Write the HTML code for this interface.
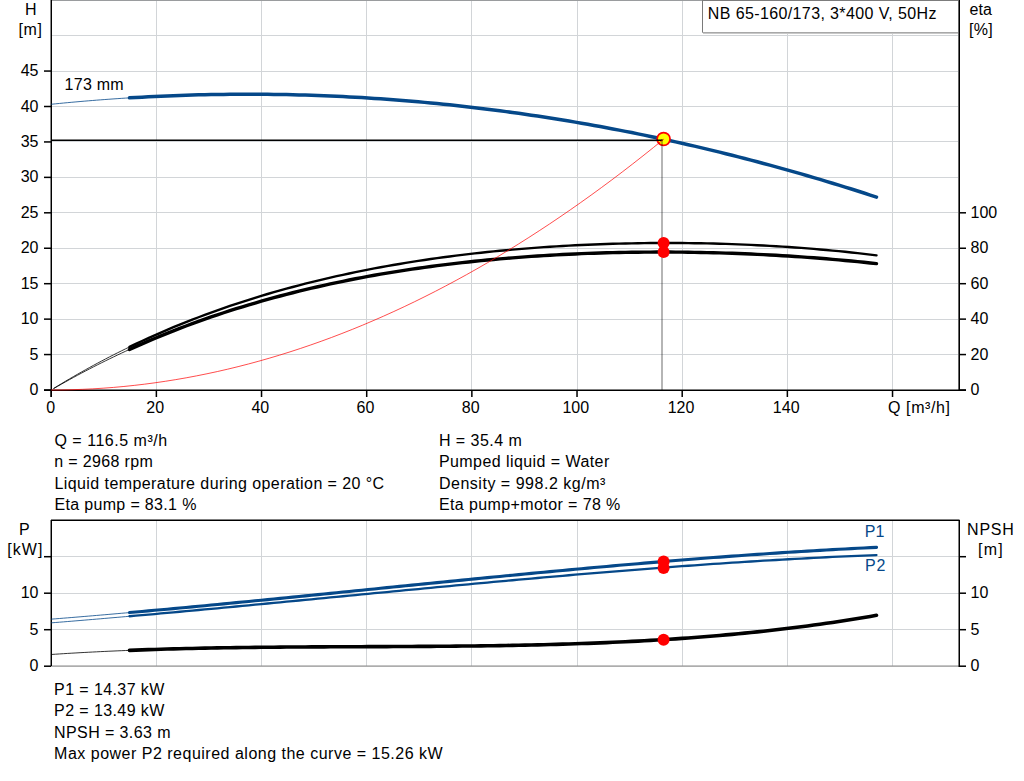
<!DOCTYPE html><html><head><meta charset="utf-8"><title>NB 65-160/173 pump curve</title><style>html,body{margin:0;padding:0;background:#fff;}body{width:1024px;height:781px;overflow:hidden;position:relative;}svg{position:absolute;left:0;top:0;display:block;}text{font-family:"Liberation Sans",Arial,sans-serif;font-size:16px;fill:#000;}</style></head><body>
<svg width="1024" height="781" viewBox="0 0 1024 781">
<rect x="0" y="0" width="1024" height="781" fill="#fff"/>
<rect x="156" y="0" width="1" height="390" fill="#d2d5d8"/>
<rect x="261" y="0" width="1" height="390" fill="#d2d5d8"/>
<rect x="366" y="0" width="1" height="390" fill="#d2d5d8"/>
<rect x="471" y="0" width="1" height="390" fill="#d2d5d8"/>
<rect x="577" y="0" width="1" height="390" fill="#d2d5d8"/>
<rect x="682" y="0" width="1" height="390" fill="#d2d5d8"/>
<rect x="787" y="0" width="1" height="390" fill="#d2d5d8"/>
<rect x="892" y="0" width="1" height="390" fill="#d2d5d8"/>
<rect x="51" y="354" width="908" height="1" fill="#d2d5d8"/>
<rect x="51" y="319" width="908" height="1" fill="#d2d5d8"/>
<rect x="51" y="283" width="908" height="1" fill="#d2d5d8"/>
<rect x="51" y="248" width="908" height="1" fill="#d2d5d8"/>
<rect x="51" y="212" width="908" height="1" fill="#d2d5d8"/>
<rect x="51" y="177" width="908" height="1" fill="#d2d5d8"/>
<rect x="51" y="141" width="908" height="1" fill="#d2d5d8"/>
<rect x="51" y="106" width="908" height="1" fill="#d2d5d8"/>
<rect x="51" y="71" width="908" height="1" fill="#d2d5d8"/>
<rect x="51" y="35" width="908" height="1" fill="#d2d5d8"/>
<rect x="702" y="0" width="257" height="34" fill="#fff"/>
<rect x="702" y="0" width="1" height="33" fill="#7a7a7a"/>
<rect x="702" y="32" width="257" height="1" fill="#a8a8a8"/>
<rect x="703" y="33" width="256" height="1" fill="#c8c8c8"/>
<text x="707.85" y="19" textLength="228.53" lengthAdjust="spacing">NB 65-160/173, 3*400 V, 50Hz</text>
<rect x="51" y="0" width="908" height="1" fill="#9a9c9e"/>
<rect x="702" y="0" width="257" height="1" fill="#7c7c7c"/>
<rect x="50" y="0" width="1" height="397" fill="#888"/>
<rect x="51" y="0" width="1" height="397" fill="#000"/>
<rect x="959" y="0" width="1" height="391" fill="#000"/>
<rect x="958" y="0" width="1" height="391" fill="#666"/>
<rect x="44" y="389.5" width="922" height="1.5" fill="#000"/>
<rect x="44" y="389.25" width="7" height="1.5" fill="#000"/>
<text x="38.5" y="395.0" text-anchor="end">0</text>
<rect x="44" y="353.81" width="7" height="1.5" fill="#000"/>
<text x="38.5" y="359.6" text-anchor="end">5</text>
<rect x="44" y="318.38" width="7" height="1.5" fill="#000"/>
<text x="38.5" y="324.1" text-anchor="end">10</text>
<rect x="44" y="282.94" width="7" height="1.5" fill="#000"/>
<text x="38.5" y="288.7" text-anchor="end">15</text>
<rect x="44" y="247.50" width="7" height="1.5" fill="#000"/>
<text x="38.5" y="253.2" text-anchor="end">20</text>
<rect x="44" y="212.06" width="7" height="1.5" fill="#000"/>
<text x="38.5" y="217.8" text-anchor="end">25</text>
<rect x="44" y="176.62" width="7" height="1.5" fill="#000"/>
<text x="38.5" y="182.4" text-anchor="end">30</text>
<rect x="44" y="141.19" width="7" height="1.5" fill="#000"/>
<text x="38.5" y="146.9" text-anchor="end">35</text>
<rect x="44" y="105.75" width="7" height="1.5" fill="#000"/>
<text x="38.5" y="111.5" text-anchor="end">40</text>
<rect x="44" y="70.31" width="7" height="1.5" fill="#000"/>
<text x="38.5" y="76.1" text-anchor="end">45</text>
<rect x="959" y="389.25" width="7" height="1.5" fill="#000"/>
<text x="970.5" y="395.0">0</text>
<rect x="959" y="353.81" width="7" height="1.5" fill="#000"/>
<text x="970.5" y="359.6">20</text>
<rect x="959" y="318.38" width="7" height="1.5" fill="#000"/>
<text x="970.5" y="324.1">40</text>
<rect x="959" y="282.94" width="7" height="1.5" fill="#000"/>
<text x="970.5" y="288.7">60</text>
<rect x="959" y="247.50" width="7" height="1.5" fill="#000"/>
<text x="970.5" y="253.2">80</text>
<rect x="959" y="212.06" width="7" height="1.5" fill="#000"/>
<text x="970.5" y="217.8">100</text>
<rect x="886" y="396" width="70" height="22" fill="#fff"/>
<rect x="50.45" y="390" width="1.5" height="7" fill="#000"/>
<text x="50.7" y="412.7" text-anchor="middle">0</text>
<rect x="155.62" y="390" width="1.5" height="7" fill="#000"/>
<text x="155.2" y="412.7" text-anchor="middle">20</text>
<rect x="260.78" y="390" width="1.5" height="7" fill="#000"/>
<text x="260.3" y="412.7" text-anchor="middle">40</text>
<rect x="365.95" y="390" width="1.5" height="7" fill="#000"/>
<text x="365.5" y="412.7" text-anchor="middle">60</text>
<rect x="471.11" y="390" width="1.5" height="7" fill="#000"/>
<text x="470.7" y="412.7" text-anchor="middle">80</text>
<rect x="576.28" y="390" width="1.5" height="7" fill="#000"/>
<text x="575.8" y="412.7" text-anchor="middle">100</text>
<rect x="681.45" y="390" width="1.5" height="7" fill="#000"/>
<text x="681.0" y="412.7" text-anchor="middle">120</text>
<rect x="786.61" y="390" width="1.5" height="7" fill="#000"/>
<text x="786.2" y="412.7" text-anchor="middle">140</text>
<rect x="891.78" y="390" width="1.5" height="7" fill="#000"/>
<text x="888.00" y="412.7" textLength="62.03" lengthAdjust="spacing">Q [m³/h]</text>
<text x="24.90" y="14.6">H</text>
<text x="18.40" y="35" textLength="23.47" lengthAdjust="spacing">[m]</text>
<text x="969.60" y="14.8">eta</text>
<text x="969.10" y="35" textLength="23.67" lengthAdjust="spacing">[%]</text>
<text x="64.60" y="89.8" textLength="59.10" lengthAdjust="spacing">173 mm</text>
<path d="M53.50,388.50 L57.50,386.05 L61.50,383.63 L65.50,381.24 L69.50,378.88 L73.50,376.56 L77.50,374.26 L81.50,371.99 L85.50,369.75 L89.50,367.53 L93.50,365.35 L97.50,363.19 L101.50,361.06 L105.50,358.96 L109.50,356.89 L113.50,354.84 L117.50,352.82 L121.50,350.83 L125.50,348.86 L129.50,346.92" fill="none" stroke="#000" stroke-width="0.8"/>
<path d="M129.50,346.92 L135.78,343.93 L142.05,340.99 L148.33,338.12 L154.61,335.31 L160.89,332.56 L167.16,329.87 L173.44,327.23 L179.72,324.65 L186.00,322.13 L192.27,319.66 L198.55,317.25 L204.83,314.88 L211.11,312.58 L217.38,310.32 L223.66,308.11 L229.94,305.96 L236.21,303.85 L242.49,301.79 L248.77,299.78 L255.05,297.81 L261.32,295.90 L267.60,294.02 L273.88,292.19 L280.16,290.41 L286.43,288.67 L292.71,286.97 L298.99,285.31 L305.26,283.69 L311.54,282.12 L317.82,280.58 L324.10,279.08 L330.37,277.62 L336.65,276.20 L342.93,274.82 L349.21,273.47 L355.48,272.16 L361.76,270.89 L368.04,269.65 L374.32,268.44 L380.59,267.27 L386.87,266.13 L393.15,265.02 L399.42,263.95 L405.70,262.91 L411.98,261.90 L418.26,260.92 L424.53,259.97 L430.81,259.05 L437.09,258.16 L443.37,257.30 L449.64,256.46 L455.92,255.66 L462.20,254.88 L468.47,254.13 L474.75,253.41 L481.03,252.72 L487.31,252.05 L493.58,251.41 L499.86,250.79 L506.14,250.20 L512.42,249.63 L518.69,249.09 L524.97,248.58 L531.25,248.08 L537.53,247.61 L543.80,247.17 L550.08,246.75 L556.36,246.35 L562.63,245.98 L568.91,245.62 L575.19,245.30 L581.47,244.99 L587.74,244.71 L594.02,244.44 L600.30,244.20 L606.58,243.99 L612.85,243.79 L619.13,243.62 L625.41,243.46 L631.68,243.33 L637.96,243.22 L644.24,243.13 L650.52,243.07 L656.79,243.02 L663.07,243.00 L669.35,242.99 L675.63,243.01 L681.90,243.05 L688.18,243.11 L694.46,243.19 L700.74,243.30 L707.01,243.42 L713.29,243.57 L719.57,243.74 L725.84,243.92 L732.12,244.14 L738.40,244.37 L744.68,244.62 L750.95,244.90 L757.23,245.20 L763.51,245.52 L769.79,245.86 L776.06,246.23 L782.34,246.62 L788.62,247.03 L794.89,247.46 L801.17,247.92 L807.45,248.40 L813.73,248.91 L820.00,249.44 L826.28,249.99 L832.56,250.57 L838.84,251.18 L845.11,251.80 L851.39,252.46 L857.67,253.14 L863.95,253.85 L870.22,254.58 L876.50,255.34" fill="none" stroke="#000" stroke-width="2.4" stroke-linecap="round" stroke-linejoin="round"/>
<path d="M53.50,388.66 L57.50,386.35 L61.50,384.08 L65.50,381.83 L69.50,379.61 L73.50,377.41 L77.50,375.24 L81.50,373.10 L85.50,370.99 L89.50,368.90 L93.50,366.84 L97.50,364.81 L101.50,362.80 L105.50,360.82 L109.50,358.86 L113.50,356.93 L117.50,355.02 L121.50,353.14 L125.50,351.28 L129.50,349.45" fill="none" stroke="#000" stroke-width="0.8"/>
<path d="M129.50,349.45 L135.78,346.62 L142.05,343.85 L148.33,341.14 L154.61,338.48 L160.89,335.88 L167.16,333.33 L173.44,330.84 L179.72,328.40 L186.00,326.01 L192.27,323.68 L198.55,321.39 L204.83,319.16 L211.11,316.98 L217.38,314.84 L223.66,312.75 L229.94,310.71 L236.21,308.72 L242.49,306.77 L248.77,304.87 L255.05,303.01 L261.32,301.20 L267.60,299.43 L273.88,297.70 L280.16,296.01 L286.43,294.36 L292.71,292.76 L298.99,291.19 L305.26,289.66 L311.54,288.18 L317.82,286.73 L324.10,285.31 L330.37,283.94 L336.65,282.60 L342.93,281.30 L349.21,280.03 L355.48,278.79 L361.76,277.59 L368.04,276.43 L374.32,275.29 L380.59,274.19 L386.87,273.13 L393.15,272.09 L399.42,271.08 L405.70,270.11 L411.98,269.16 L418.26,268.25 L424.53,267.36 L430.81,266.51 L437.09,265.68 L443.37,264.88 L449.64,264.10 L455.92,263.36 L462.20,262.64 L468.47,261.95 L474.75,261.28 L481.03,260.64 L487.31,260.03 L493.58,259.44 L499.86,258.88 L506.14,258.34 L512.42,257.82 L518.69,257.33 L524.97,256.86 L531.25,256.41 L537.53,255.99 L543.80,255.59 L550.08,255.22 L556.36,254.86 L562.63,254.53 L568.91,254.22 L575.19,253.93 L581.47,253.66 L587.74,253.42 L594.02,253.19 L600.30,252.99 L606.58,252.80 L612.85,252.64 L619.13,252.50 L625.41,252.37 L631.68,252.27 L637.96,252.19 L644.24,252.13 L650.52,252.08 L656.79,252.06 L663.07,252.06 L669.35,252.07 L675.63,252.11 L681.90,252.16 L688.18,252.24 L694.46,252.33 L700.74,252.45 L707.01,252.58 L713.29,252.73 L719.57,252.90 L725.84,253.09 L732.12,253.30 L738.40,253.53 L744.68,253.78 L750.95,254.05 L757.23,254.33 L763.51,254.64 L769.79,254.97 L776.06,255.32 L782.34,255.68 L788.62,256.07 L794.89,256.47 L801.17,256.90 L807.45,257.35 L813.73,257.82 L820.00,258.30 L826.28,258.81 L832.56,259.34 L838.84,259.89 L845.11,260.47 L851.39,261.06 L857.67,261.68 L863.95,262.31 L870.22,262.97 L876.50,263.65" fill="none" stroke="#000" stroke-width="3.4" stroke-linecap="round" stroke-linejoin="round"/>
<path d="M51.20,104.27 L55.32,103.85 L59.44,103.44 L63.56,103.04 L67.68,102.65 L71.81,102.27 L75.93,101.90 L80.05,101.54 L84.17,101.18 L88.29,100.83 L92.41,100.50 L96.53,100.17 L100.65,99.85 L104.77,99.54 L108.89,99.24 L113.02,98.94 L117.14,98.66 L121.26,98.39 L125.38,98.12 L129.50,97.86" fill="none" stroke="#054889" stroke-width="0.8"/>
<path d="M129.50,97.86 L135.78,97.49 L142.05,97.13 L148.33,96.80 L154.61,96.48 L160.89,96.19 L167.16,95.92 L173.44,95.66 L179.72,95.43 L186.00,95.22 L192.27,95.03 L198.55,94.86 L204.83,94.71 L211.11,94.58 L217.38,94.47 L223.66,94.38 L229.94,94.31 L236.21,94.27 L242.49,94.24 L248.77,94.23 L255.05,94.25 L261.32,94.28 L267.60,94.34 L273.88,94.41 L280.16,94.51 L286.43,94.62 L292.71,94.76 L298.99,94.92 L305.26,95.10 L311.54,95.29 L317.82,95.51 L324.10,95.75 L330.37,96.01 L336.65,96.29 L342.93,96.59 L349.21,96.91 L355.48,97.26 L361.76,97.62 L368.04,98.00 L374.32,98.41 L380.59,98.83 L386.87,99.27 L393.15,99.74 L399.42,100.22 L405.70,100.73 L411.98,101.26 L418.26,101.80 L424.53,102.37 L430.81,102.96 L437.09,103.57 L443.37,104.19 L449.64,104.84 L455.92,105.51 L462.20,106.20 L468.47,106.92 L474.75,107.65 L481.03,108.40 L487.31,109.17 L493.58,109.96 L499.86,110.78 L506.14,111.61 L512.42,112.46 L518.69,113.34 L524.97,114.23 L531.25,115.15 L537.53,116.09 L543.80,117.04 L550.08,118.02 L556.36,119.02 L562.63,120.04 L568.91,121.08 L575.19,122.13 L581.47,123.21 L587.74,124.31 L594.02,125.43 L600.30,126.58 L606.58,127.74 L612.85,128.92 L619.13,130.12 L625.41,131.35 L631.68,132.59 L637.96,133.85 L644.24,135.14 L650.52,136.44 L656.79,137.77 L663.07,139.12 L669.35,140.48 L675.63,141.87 L681.90,143.28 L688.18,144.70 L694.46,146.15 L700.74,147.62 L707.01,149.11 L713.29,150.62 L719.57,152.15 L725.84,153.70 L732.12,155.28 L738.40,156.87 L744.68,158.48 L750.95,160.11 L757.23,161.77 L763.51,163.44 L769.79,165.14 L776.06,166.85 L782.34,168.59 L788.62,170.34 L794.89,172.12 L801.17,173.92 L807.45,175.73 L813.73,177.57 L820.00,179.43 L826.28,181.31 L832.56,183.21 L838.84,185.13 L845.11,187.07 L851.39,189.03 L857.67,191.01 L863.95,193.01 L870.22,195.04 L876.50,197.08" fill="none" stroke="#054889" stroke-width="3.5" stroke-linecap="round" stroke-linejoin="round"/>
<circle cx="663.6" cy="139" r="6.45" fill="#ffff00" stroke="#ff0000" stroke-width="1.7"/>
<rect x="51" y="139.5" width="611.5" height="1.5" fill="#000"/>
<rect x="661" y="139" width="2" height="251" fill="#000" fill-opacity="0.29"/>
<path d="M51.20,390.00 L61.58,389.93 L71.97,389.71 L82.35,389.35 L92.73,388.85 L103.11,388.20 L113.50,387.41 L123.88,386.47 L134.26,385.39 L144.65,384.16 L155.03,382.79 L165.41,381.28 L175.79,379.62 L186.18,377.82 L196.56,375.87 L206.94,373.78 L217.33,371.55 L227.71,369.17 L238.09,366.65 L248.48,363.98 L258.86,361.17 L269.24,358.21 L279.62,355.12 L290.01,351.87 L300.39,348.48 L310.77,344.95 L321.16,341.28 L331.54,337.46 L341.92,333.49 L352.30,329.38 L362.69,325.13 L373.07,320.73 L383.45,316.19 L393.84,311.51 L404.22,306.68 L414.60,301.71 L424.98,296.59 L435.37,291.33 L445.75,285.92 L456.13,280.37 L466.52,274.68 L476.90,268.84 L487.28,262.86 L497.67,256.73 L508.05,250.46 L518.43,244.05 L528.81,237.49 L539.20,230.78 L549.58,223.94 L559.96,216.94 L570.35,209.81 L580.73,202.53 L591.11,195.11 L601.49,187.54 L611.88,179.83 L622.26,171.97 L632.64,163.97 L643.03,155.82 L653.41,147.54 L663.79,139.10" fill="none" stroke="#ff0000" stroke-width="0.7"/>
<circle cx="663.6" cy="243" r="6" fill="#ff0000"/>
<circle cx="663.6" cy="252" r="6" fill="#ff0000"/>
<text x="54.40" y="446" textLength="112.73" lengthAdjust="spacing">Q = 116.5 m³/h</text>
<text x="54.35" y="467.3" textLength="98.38" lengthAdjust="spacing">n = 2968 rpm</text>
<text x="54.40" y="488.6" textLength="329.74" lengthAdjust="spacing">Liquid temperature during operation = 20 °C</text>
<text x="54.40" y="510" textLength="141.98" lengthAdjust="spacing">Eta pump = 83.1 %</text>
<text x="438.90" y="446" textLength="83.00" lengthAdjust="spacing">H = 35.4 m</text>
<text x="438.90" y="467.3" textLength="170.37" lengthAdjust="spacing">Pumped liquid = Water</text>
<text x="438.90" y="488.6" textLength="166.48" lengthAdjust="spacing">Density = 998.2 kg/m³</text>
<text x="438.90" y="510" textLength="181.44" lengthAdjust="spacing">Eta pump+motor = 78 %</text>
<rect x="156" y="521" width="1" height="145" fill="#d2d5d8"/>
<rect x="261" y="521" width="1" height="145" fill="#d2d5d8"/>
<rect x="366" y="521" width="1" height="145" fill="#d2d5d8"/>
<rect x="471" y="521" width="1" height="145" fill="#d2d5d8"/>
<rect x="577" y="521" width="1" height="145" fill="#d2d5d8"/>
<rect x="682" y="521" width="1" height="145" fill="#d2d5d8"/>
<rect x="787" y="521" width="1" height="145" fill="#d2d5d8"/>
<rect x="892" y="521" width="1" height="145" fill="#d2d5d8"/>
<rect x="51" y="629" width="908" height="1" fill="#d2d5d8"/>
<rect x="51" y="593" width="908" height="1" fill="#d2d5d8"/>
<rect x="51" y="556" width="908" height="1" fill="#d2d5d8"/>
<rect x="51" y="519.5" width="908.5" height="1.5" fill="#000"/>
<rect x="51" y="665.5" width="908" height="1.2" fill="#8a8a8a"/>
<rect x="50" y="520" width="1" height="146" fill="#888"/>
<rect x="51" y="520" width="1" height="146" fill="#000"/>
<rect x="958.5" y="520" width="1.5" height="147" fill="#000"/>
<rect x="44" y="665.45" width="7" height="1.5" fill="#000"/>
<rect x="959" y="665.45" width="7" height="1.5" fill="#000"/>
<text x="38.5" y="671.2" text-anchor="end">0</text>
<text x="970.5" y="671.2">0</text>
<rect x="44" y="628.95" width="7" height="1.5" fill="#000"/>
<rect x="959" y="628.95" width="7" height="1.5" fill="#000"/>
<text x="38.5" y="634.7" text-anchor="end">5</text>
<text x="970.5" y="634.7">5</text>
<rect x="44" y="592.45" width="7" height="1.5" fill="#000"/>
<rect x="959" y="592.45" width="7" height="1.5" fill="#000"/>
<text x="38.5" y="598.2" text-anchor="end">10</text>
<text x="970.5" y="598.2">10</text>
<rect x="44" y="555.95" width="7" height="1.5" fill="#000"/>
<rect x="959" y="555.95" width="7" height="1.5" fill="#000"/>
<text x="19.10" y="535">P</text>
<text x="7.30" y="555" textLength="35.10" lengthAdjust="spacing">[kW]</text>
<text x="967.10" y="535" textLength="46.70" lengthAdjust="spacing">NPSH</text>
<text x="978.10" y="555" textLength="24.57" lengthAdjust="spacing">[m]</text>
<text x="864.80" y="537" style="fill:#054889">P1</text>
<text x="865.00" y="571" textLength="20.38" lengthAdjust="spacing" style="fill:#054889">P2</text>
<path d="M51.20,622.86 L55.32,622.53 L59.44,622.20 L63.56,621.86 L67.68,621.52 L71.81,621.19 L75.93,620.84 L80.05,620.50 L84.17,620.16 L88.29,619.81 L92.41,619.47 L96.53,619.12 L100.65,618.77 L104.77,618.41 L108.89,618.06 L113.02,617.70 L117.14,617.35 L121.26,616.99 L125.38,616.63 L129.50,616.27" fill="none" stroke="#054889" stroke-width="0.8"/>
<path d="M129.50,616.27 L135.78,615.71 L142.05,615.16 L148.33,614.60 L154.61,614.04 L160.89,613.47 L167.16,612.90 L173.44,612.33 L179.72,611.76 L186.00,611.18 L192.27,610.60 L198.55,610.02 L204.83,609.44 L211.11,608.86 L217.38,608.27 L223.66,607.68 L229.94,607.09 L236.21,606.50 L242.49,605.90 L248.77,605.31 L255.05,604.71 L261.32,604.11 L267.60,603.51 L273.88,602.91 L280.16,602.31 L286.43,601.71 L292.71,601.11 L298.99,600.50 L305.26,599.90 L311.54,599.29 L317.82,598.69 L324.10,598.08 L330.37,597.47 L336.65,596.87 L342.93,596.26 L349.21,595.66 L355.48,595.05 L361.76,594.44 L368.04,593.84 L374.32,593.23 L380.59,592.63 L386.87,592.03 L393.15,591.42 L399.42,590.82 L405.70,590.22 L411.98,589.62 L418.26,589.02 L424.53,588.42 L430.81,587.83 L437.09,587.23 L443.37,586.64 L449.64,586.05 L455.92,585.45 L462.20,584.87 L468.47,584.28 L474.75,583.70 L481.03,583.11 L487.31,582.53 L493.58,581.96 L499.86,581.38 L506.14,580.81 L512.42,580.24 L518.69,579.67 L524.97,579.11 L531.25,578.55 L537.53,577.99 L543.80,577.43 L550.08,576.88 L556.36,576.33 L562.63,575.78 L568.91,575.24 L575.19,574.70 L581.47,574.17 L587.74,573.64 L594.02,573.11 L600.30,572.59 L606.58,572.07 L612.85,571.56 L619.13,571.05 L625.41,570.54 L631.68,570.04 L637.96,569.54 L644.24,569.05 L650.52,568.56 L656.79,568.08 L663.07,567.60 L669.35,567.13 L675.63,566.66 L681.90,566.20 L688.18,565.74 L694.46,565.29 L700.74,564.85 L707.01,564.41 L713.29,563.97 L719.57,563.55 L725.84,563.12 L732.12,562.71 L738.40,562.30 L744.68,561.90 L750.95,561.50 L757.23,561.11 L763.51,560.72 L769.79,560.35 L776.06,559.98 L782.34,559.61 L788.62,559.25 L794.89,558.90 L801.17,558.56 L807.45,558.23 L813.73,557.90 L820.00,557.58 L826.28,557.26 L832.56,556.96 L838.84,556.66 L845.11,556.37 L851.39,556.09 L857.67,555.82 L863.95,555.55 L870.22,555.29 L876.50,555.04" fill="none" stroke="#054889" stroke-width="2.3" stroke-linecap="round" stroke-linejoin="round"/>
<path d="M51.20,619.15 L55.32,618.83 L59.44,618.50 L63.56,618.17 L67.68,617.83 L71.81,617.50 L75.93,617.16 L80.05,616.82 L84.17,616.48 L88.29,616.13 L92.41,615.79 L96.53,615.44 L100.65,615.09 L104.77,614.74 L108.89,614.38 L113.02,614.03 L117.14,613.67 L121.26,613.31 L125.38,612.95 L129.50,612.58" fill="none" stroke="#054889" stroke-width="0.8"/>
<path d="M129.50,612.58 L135.78,612.03 L142.05,611.47 L148.33,610.90 L154.61,610.33 L160.89,609.76 L167.16,609.19 L173.44,608.61 L179.72,608.03 L186.00,607.44 L192.27,606.85 L198.55,606.26 L204.83,605.67 L211.11,605.07 L217.38,604.47 L223.66,603.87 L229.94,603.27 L236.21,602.66 L242.49,602.05 L248.77,601.44 L255.05,600.82 L261.32,600.21 L267.60,599.59 L273.88,598.97 L280.16,598.35 L286.43,597.73 L292.71,597.11 L298.99,596.48 L305.26,595.86 L311.54,595.23 L317.82,594.60 L324.10,593.97 L330.37,593.34 L336.65,592.71 L342.93,592.08 L349.21,591.45 L355.48,590.82 L361.76,590.19 L368.04,589.55 L374.32,588.92 L380.59,588.29 L386.87,587.66 L393.15,587.02 L399.42,586.39 L405.70,585.76 L411.98,585.13 L418.26,584.50 L424.53,583.87 L430.81,583.24 L437.09,582.62 L443.37,581.99 L449.64,581.37 L455.92,580.74 L462.20,580.12 L468.47,579.50 L474.75,578.88 L481.03,578.26 L487.31,577.65 L493.58,577.03 L499.86,576.42 L506.14,575.81 L512.42,575.20 L518.69,574.60 L524.97,573.99 L531.25,573.39 L537.53,572.80 L543.80,572.20 L550.08,571.61 L556.36,571.02 L562.63,570.44 L568.91,569.85 L575.19,569.27 L581.47,568.70 L587.74,568.13 L594.02,567.56 L600.30,566.99 L606.58,566.43 L612.85,565.87 L619.13,565.32 L625.41,564.77 L631.68,564.22 L637.96,563.68 L644.24,563.15 L650.52,562.61 L656.79,562.09 L663.07,561.56 L669.35,561.05 L675.63,560.53 L681.90,560.03 L688.18,559.52 L694.46,559.03 L700.74,558.53 L707.01,558.05 L713.29,557.57 L719.57,557.09 L725.84,556.62 L732.12,556.16 L738.40,555.70 L744.68,555.25 L750.95,554.80 L757.23,554.37 L763.51,553.93 L769.79,553.51 L776.06,553.09 L782.34,552.67 L788.62,552.27 L794.89,551.87 L801.17,551.48 L807.45,551.09 L813.73,550.71 L820.00,550.34 L826.28,549.98 L832.56,549.63 L838.84,549.28 L845.11,548.94 L851.39,548.61 L857.67,548.28 L863.95,547.97 L870.22,547.66 L876.50,547.36" fill="none" stroke="#054889" stroke-width="3.1" stroke-linecap="round" stroke-linejoin="round"/>
<path d="M51.20,654.48 L55.32,654.21 L59.44,653.94 L63.56,653.68 L67.68,653.42 L71.81,653.18 L75.93,652.94 L80.05,652.70 L84.17,652.48 L88.29,652.25 L92.41,652.04 L96.53,651.83 L100.65,651.62 L104.77,651.43 L108.89,651.23 L113.02,651.05 L117.14,650.87 L121.26,650.69 L125.38,650.52 L129.50,650.36" fill="none" stroke="#000" stroke-width="0.8"/>
<path d="M129.50,650.36 L135.78,650.11 L142.05,649.88 L148.33,649.67 L154.61,649.46 L160.89,649.26 L167.16,649.07 L173.44,648.90 L179.72,648.73 L186.00,648.57 L192.27,648.43 L198.55,648.29 L204.83,648.16 L211.11,648.03 L217.38,647.92 L223.66,647.81 L229.94,647.71 L236.21,647.61 L242.49,647.53 L248.77,647.45 L255.05,647.37 L261.32,647.30 L267.60,647.24 L273.88,647.18 L280.16,647.12 L286.43,647.07 L292.71,647.03 L298.99,646.98 L305.26,646.94 L311.54,646.91 L317.82,646.87 L324.10,646.84 L330.37,646.81 L336.65,646.78 L342.93,646.75 L349.21,646.73 L355.48,646.70 L361.76,646.68 L368.04,646.65 L374.32,646.63 L380.59,646.60 L386.87,646.58 L393.15,646.55 L399.42,646.52 L405.70,646.49 L411.98,646.46 L418.26,646.42 L424.53,646.38 L430.81,646.34 L437.09,646.30 L443.37,646.25 L449.64,646.19 L455.92,646.14 L462.20,646.07 L468.47,646.01 L474.75,645.93 L481.03,645.86 L487.31,645.77 L493.58,645.68 L499.86,645.58 L506.14,645.48 L512.42,645.37 L518.69,645.25 L524.97,645.12 L531.25,644.98 L537.53,644.84 L543.80,644.69 L550.08,644.52 L556.36,644.35 L562.63,644.17 L568.91,643.98 L575.19,643.78 L581.47,643.56 L587.74,643.34 L594.02,643.10 L600.30,642.85 L606.58,642.59 L612.85,642.32 L619.13,642.03 L625.41,641.74 L631.68,641.42 L637.96,641.10 L644.24,640.76 L650.52,640.40 L656.79,640.03 L663.07,639.65 L669.35,639.25 L675.63,638.84 L681.90,638.40 L688.18,637.96 L694.46,637.49 L700.74,637.01 L707.01,636.51 L713.29,636.00 L719.57,635.46 L725.84,634.91 L732.12,634.34 L738.40,633.75 L744.68,633.14 L750.95,632.51 L757.23,631.86 L763.51,631.19 L769.79,630.51 L776.06,629.80 L782.34,629.06 L788.62,628.31 L794.89,627.54 L801.17,626.74 L807.45,625.92 L813.73,625.08 L820.00,624.22 L826.28,623.33 L832.56,622.41 L838.84,621.48 L845.11,620.52 L851.39,619.53 L857.67,618.52 L863.95,617.49 L870.22,616.43 L876.50,615.34" fill="none" stroke="#000" stroke-width="3.6" stroke-linecap="round" stroke-linejoin="round"/>
<circle cx="663.6" cy="561.4" r="6" fill="#ff0000"/>
<circle cx="663.6" cy="567.9" r="6" fill="#ff0000"/>
<circle cx="663.6" cy="639.8" r="6" fill="#ff0000"/>
<text x="54.10" y="695" textLength="110.19" lengthAdjust="spacing">P1 = 14.37 kW</text>
<text x="54.10" y="716.3" textLength="110.19" lengthAdjust="spacing">P2 = 13.49 kW</text>
<text x="54.10" y="737.7" textLength="116.36" lengthAdjust="spacing">NPSH = 3.63 m</text>
<text x="54.10" y="759" textLength="388.54" lengthAdjust="spacing">Max power P2 required along the curve = 15.26 kW</text>
</svg></body></html>
